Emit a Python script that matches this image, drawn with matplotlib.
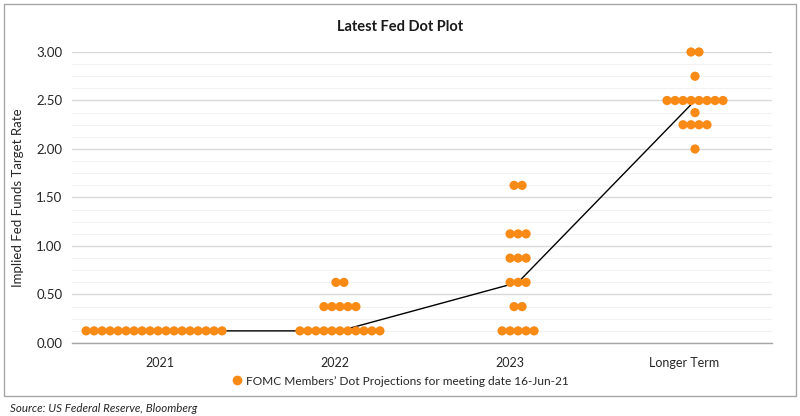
import matplotlib
matplotlib.use("Agg")
import matplotlib.pyplot as plt
from matplotlib.patches import Rectangle
from matplotlib.lines import Line2D
import numpy as np

categories = ['2021', '2022', '2023', 'Longer Term']
rates_2021 = [0.125]
counts_2021 = [18]
rates_2022 = [0.125, 0.375, 0.625]
counts_2022 = [11, 5, 2]
rates_2023 = [0.125, 0.375, 0.625, 0.875, 1.125, 1.625]
counts_2023 = [5, 2, 3, 3, 3, 2]
rates_lt = [2.0, 2.25, 2.375, 2.5, 2.75, 3.0]
counts_lt = [1, 4, 1, 8, 1, 2]
median_rates = [0.125, 0.125, 0.625, 2.5]
yticks = [0.0, 0.5, 1.0, 1.5, 2.0, 2.5, 3.0]

# layout (not data)
cluster_shift = [-0.031, 0.031, 0.049, 0.06]
dot_step = 0.0457
orange = '#F98A16'
FONT = ['Lato', 'DejaVu Sans']
plt.rcParams['font.family'] = FONT

fig = plt.figure(figsize=(8, 4.16), dpi=100)
ax = fig.add_axes([0.09, 0.1755, 0.875, 0.6995])

groups = [(rates_2021, counts_2021), (rates_2022, counts_2022),
          (rates_2023, counts_2023), (rates_lt, counts_lt)]
centers = [i + 0.5 + cluster_shift[i] for i in range(len(categories))]

ax.plot(centers, median_rates, color='black', lw=1.0, zorder=3)

for ci, (rates, counts) in enumerate(groups):
    xs, ys = [], []
    for r, n in zip(rates, counts):
        offs = (np.arange(n) - (n - 1) / 2) * dot_step
        xs.extend(centers[ci] + offs)
        ys.extend([r] * n)
    ax.scatter(xs, ys, s=44, color=orange, edgecolors='none', zorder=4, clip_on=False)

ax.set_xlim(0, 4)
ax.set_ylim(0, 3)
ax.set_xticks([i + 0.5 for i in range(len(categories))])
ax.set_xticklabels(categories, fontsize=9, color='#262626')
ax.set_yticks(yticks)
ax.set_yticklabels([f'{v:.2f}' for v in yticks], fontsize=9.5, color='#262626')
ax.set_yticks(np.arange(0, 3.0001, 0.125), minor=True)
ax.tick_params(axis='y', length=0, pad=7)
ax.tick_params(axis='x', length=0, pad=10)
ax.tick_params(axis='y', which='minor', length=0)
ax.grid(axis='y', which='major', color='#D9D9D9', lw=1.0, zorder=0)
ax.grid(axis='y', which='minor', color='#F2F2F2', lw=0.8, zorder=0)
for s in ['top', 'right', 'left']:
    ax.spines[s].set_visible(False)
ax.spines['bottom'].set_color('#A6A6A6')
ax.spines['bottom'].set_linewidth(1.0)
ax.set_axisbelow(True)

ax.set_ylabel('Implied Fed Funds Target Rate', fontsize=9.5, color='#262626', labelpad=9)

fig.text(0.5, 0.935, 'Latest Fed Dot Plot', ha='center', va='center',
         fontsize=10.5, fontweight='bold', color='#1a1a1a')

handle = Line2D([], [], marker='o', color='none', markerfacecolor=orange,
                markeredgecolor='none', markersize=7)
fig.legend([handle], ['FOMC Members\u2019 Dot Projections for meeting date 16-Jun-21'],
           loc='center', bbox_to_anchor=(0.5, 0.084), frameon=False,
           fontsize=8.6, handletextpad=0.3, handlelength=1.0, labelcolor='#262626')

fig.patches.append(Rectangle((0.005, 0.047), 0.99, 0.943, transform=fig.transFigure,
                             fill=False, edgecolor='#A6A6A6', lw=1.0))
fig.text(0.012, 0.018, 'Source: US Federal Reserve, Bloomberg', ha='left', va='center',
         fontsize=8.3, style='italic', color='#262626')

fig.savefig('out.png', dpi=100, facecolor='white')
